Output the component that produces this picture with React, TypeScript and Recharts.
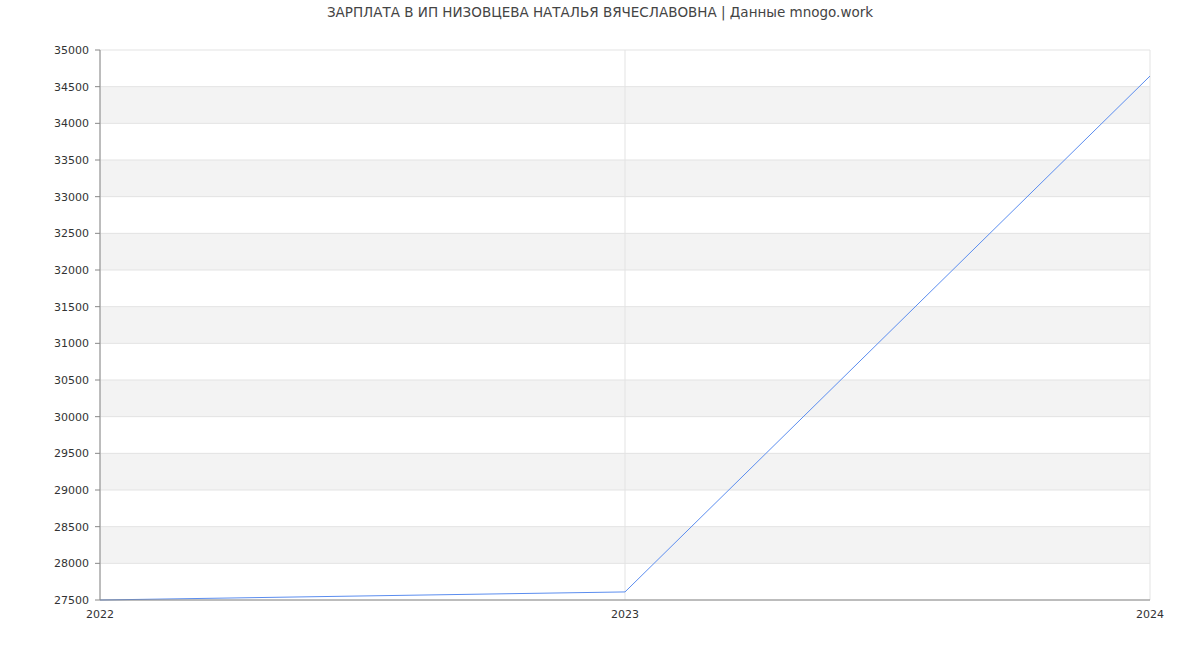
import React from 'react';
import { LineChart, Line, XAxis, YAxis, CartesianGrid } from 'recharts';

const years = ['2022', '2023', '2024'];
const salary = [27500, 27610, 34645];
const yTicks = [27500, 28000, 28500, 29000, 29500, 30000, 30500, 31000, 31500, 32000, 32500, 33000, 33500, 34000, 34500, 35000];

const data = years.map((year, i) => ({ year, salary: salary[i] }));

const FONT = '"DejaVu Sans", Verdana, sans-serif';

const App: React.FC = () => {
  return (
    <div style={{ position: 'absolute', left: 0, top: 0, width: 1200, height: 650, background: '#fff', fontFamily: FONT }}>
      <div
        style={{
          position: 'absolute',
          top: 4,
          left: 0,
          width: 1200,
          textAlign: 'center',
          fontSize: 13.5,
          color: '#444',
        }}
      >
        ЗАРПЛАТА В ИП НИЗОВЦЕВА НАТАЛЬЯ ВЯЧЕСЛАВОВНА | Данные mnogo.work
      </div>
      <LineChart width={1200} height={650} data={data} margin={{ top: 50, right: 50, bottom: 0, left: 0 }}>
        <CartesianGrid
          stroke="#e3e3e3"
          horizontalFill={['#ffffff', '#f3f3f3']}
          fillOpacity={1}
        />
        <XAxis
          dataKey="year"
          height={50}
          tickLine={false}
          tickSize={6}
          tickMargin={4}
          axisLine={{ stroke: '#888' }}
          tick={{ fontSize: 11, fill: '#333', fontFamily: FONT }}
          interval={0}
        />
        <YAxis
          width={100}
          domain={[27500, 35000]}
          ticks={yTicks}
          interval={0}
          tickSize={5}
          tickMargin={6}
          axisLine={{ stroke: '#888' }}
          tickLine={{ stroke: '#888' }}
          tick={{ fontSize: 11, fill: '#333', fontFamily: FONT }}
        />
        <Line
          type="linear"
          dataKey="salary"
          stroke="#5b8def"
          strokeWidth={1}
          dot={false}
          isAnimationActive={false}
        />
      </LineChart>
    </div>
  );
};

export default App;
